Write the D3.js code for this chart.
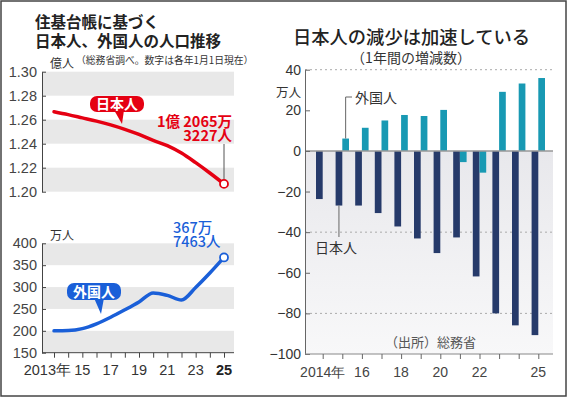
<!DOCTYPE html>
<html><head><meta charset="utf-8">
<script src="https://cdn.jsdelivr.net/npm/d3@7"></script>
<style>
body{margin:0;background:#fff;}
svg{display:block;}
</style></head>
<body><svg id="c" width="567" height="398"></svg>
<script>
// ---- data ----
const years = [2013,2014,2015,2016,2017,2018,2019,2020,2021,2022,2023,2024,2025];
const japanesePop = [1.2666,1.2642,1.2615,1.2588,1.2557,1.2520,1.2477,1.2427,1.2384,1.2322,1.2242,1.2156,1.2065]; // 億人
const foreignPop = [199.9,200.5,205,216,231,248,266,286.5,281,270.5,299,332,367.7]; // 万人
const barYears = [2014,2015,2016,2017,2018,2019,2020,2021,2022,2023,2024,2025];
const japaneseChange = [-23.7,-26.9,-26.9,-30.6,-37.2,-43.1,-50.3,-42.6,-61.8,-80.0,-85.9,-90.7]; // 万人
const foreignChange = [0,6.1,11.4,15.0,17.7,17.2,20.2,-5.5,-10.7,29.1,33.2,35.9]; // 万人
const topTicks = [1.20,1.22,1.24,1.26,1.28,1.30];
const topTickLabels = ["1.20","1.22","1.24","1.26","1.28","1.30"];
const botTicks = [150,200,250,300,350,400];
const leftXLabels = [[2013,"2013年"],[2015,"15"],[2017,"17"],[2019,"19"],[2021,"21"],[2023,"23"],[2025,"25"]];
const rightTicks = [-100,-80,-60,-40,-20,0,20,40];
const rightXLabels = [[2014,"2014年"],[2016,"16"],[2018,"18"],[2020,"20"],[2022,"22"],[2025,"25"]];

const JP = "'Noto Sans CJK JP','Noto Sans',sans-serif";
const NUM = "'Liberation Sans',Arial,sans-serif";
const RED = "#e50012", BLUE = "#1a5fd8", NAVY = "#263a6a", CYAN = "#1899b3";

const svg = d3.select("#c");
const defs = svg.append("defs");
const grad = defs.append("linearGradient").attr("id","gbg").attr("x1",0).attr("y1",0).attr("x2",0).attr("y2",1);
grad.append("stop").attr("offset","0%").attr("stop-color","#e8e8ec");
grad.append("stop").attr("offset","100%").attr("stop-color","#f8f8f9");

// frame
svg.append("rect").attr("x",1).attr("y",1).attr("width",565).attr("height",395)
  .attr("fill","#fff").attr("stroke","#444").attr("stroke-width",1.5);

// ---- left titles ----
svg.append("text").attr("x",35).attr("y",28).attr("font-family",JP).attr("font-size",15.5).attr("font-weight",700).attr("fill","#222").text("住基台帳に基づく");
svg.append("text").attr("x",35).attr("y",47).attr("font-family",JP).attr("font-size",15.5).attr("font-weight",700).attr("fill","#222").text("日本人、外国人の人口推移");
svg.append("text").attr("x",50).attr("y",68).attr("font-family",JP).attr("font-size",12).attr("fill","#333").text("億人");
svg.append("text").attr("x",76).attr("y",64).attr("font-family",JP).attr("font-size",9.8).attr("fill","#333").text("（総務省調べ。数字は各年1月1日現在）");

// ---- left scales ----
const x = d3.scaleLinear().domain([2013,2025]).range([54,224]);
const yTop = d3.scaleLinear().domain([1.20,1.30]).range([191.7,71.7]);
const yBot = d3.scaleLinear().domain([150,400]).range([352.7,243.3]);
const pL = 42, pR = 234;

// bands
[[1.28,1.30],[1.24,1.26],[1.20,1.22]].forEach(b=>{
  svg.append("rect").attr("x",pL).attr("width",pR-pL).attr("y",yTop(b[1])).attr("height",yTop(b[0])-yTop(b[1])).attr("fill","#e8e8e8");
});
[[350,400],[250,300],[150,200]].forEach(b=>{
  svg.append("rect").attr("x",pL).attr("width",pR-pL).attr("y",yBot(b[1])).attr("height",yBot(b[0])-yBot(b[1])).attr("fill","#e8e8e8");
});

// top y axis
const gTop = svg.append("g").attr("transform",`translate(${pL},0)`)
  .call(d3.axisLeft(yTop).tickValues(topTicks).tickFormat((d,i)=>topTickLabels[i]).tickSizeInner(-4).tickSizeOuter(0).tickPadding(5));
gTop.select(".domain").attr("stroke","#444");
gTop.selectAll(".tick line").attr("stroke","#444");
gTop.selectAll("text").attr("font-family",NUM).attr("font-size",14.5).attr("fill","#444");

// bottom y axis
const gBot = svg.append("g").attr("transform",`translate(${pL},0)`)
  .call(d3.axisLeft(yBot).tickValues(botTicks).tickSizeInner(-4).tickSizeOuter(0).tickPadding(5));
gBot.select(".domain").attr("stroke","#444");
gBot.selectAll(".tick line").attr("stroke","#444");
gBot.selectAll("text").attr("font-family",NUM).attr("font-size",14.5).attr("fill","#444");

// bottom x axis
const gx = svg.append("g").attr("transform",`translate(0,${yBot(150)})`)
  .call(d3.axisBottom(x).tickValues(years).tickFormat("").tickSizeInner(5).tickSizeOuter(0));
gx.select(".domain").attr("d",`M${pL},0H${pR}`).attr("stroke","#444");
gx.selectAll(".tick line").attr("stroke","#444");
leftXLabels.forEach(([yr,lab])=>{
  const t = svg.append("text").attr("y",375).attr("font-family",NUM).attr("font-size",14.5).attr("fill","#333").text(lab);
  if(yr===2013){ t.attr("x",x(yr)+17).attr("text-anchor","end"); }
  else { t.attr("x",x(yr)).attr("text-anchor","middle"); }
  if(yr===2025) t.attr("font-weight",700).attr("fill","#222");
});
svg.append("text").attr("x",50).attr("y",240).attr("font-family",JP).attr("font-size",12).attr("fill","#333").text("万人");

// lines
const lineTop = d3.line().x((d,i)=>x(years[i])).y(d=>yTop(d)).curve(d3.curveMonotoneX);
svg.append("path").attr("d",lineTop(japanesePop)).attr("fill","none").attr("stroke",RED).attr("stroke-width",3.5).attr("stroke-linecap","round");
const lineBot = d3.line().x((d,i)=>x(years[i])).y(d=>yBot(d)).curve(d3.curveMonotoneX);
svg.append("path").attr("d",lineBot(foreignPop)).attr("fill","none").attr("stroke",BLUE).attr("stroke-width",3.5).attr("stroke-linecap","round");

// end markers / labels
const lastJ = japanesePop[japanesePop.length-1], lastF = foreignPop[foreignPop.length-1];
svg.append("line").attr("x1",x(2025)).attr("x2",x(2025)).attr("y1",144).attr("y2",yTop(lastJ)-4).attr("stroke","#555").attr("stroke-width",1);
svg.append("circle").attr("cx",x(2025)).attr("cy",yTop(lastJ)).attr("r",4).attr("fill","#fff").attr("stroke",RED).attr("stroke-width",1.8);
const tj = svg.append("text").attr("text-anchor","end").attr("font-family",JP).attr("font-size",14.5).attr("font-weight",700).attr("fill",RED);
tj.append("tspan").attr("x",232).attr("y",127).text("1億 2065万");
tj.append("tspan").attr("x",232).attr("y",141).text("3227人");

svg.append("circle").attr("cx",x(2025)).attr("cy",yBot(lastF)).attr("r",4).attr("fill","#fff").attr("stroke",BLUE).attr("stroke-width",1.8);
const tf = svg.append("text").attr("font-family",JP).attr("font-size",14.5).attr("font-weight",500).attr("fill",BLUE);
tf.append("tspan").attr("x",173).attr("y",233).text("367万");
tf.append("tspan").attr("x",173).attr("y",246.5).text("7463人");

// callout boxes
function callout(bx,by,bw,bh,tail,color,label){
  svg.append("path").attr("d",`M${tail[0][0]},${tail[0][1]}L${tail[1][0]},${tail[1][1]}L${tail[2][0]},${tail[2][1]}Z`).attr("fill",color);
  svg.append("rect").attr("x",bx).attr("y",by).attr("width",bw).attr("height",bh).attr("rx",7).attr("fill",color);
  svg.append("text").attr("x",bx+bw/2).attr("y",by+bh/2+5).attr("text-anchor","middle").attr("font-family",JP).attr("font-size",14).attr("font-weight",700).attr("fill","#fff").text(label);
}
callout(90,96,54,16,[[114,110],[124,110],[122,124]],RED,"日本人");
callout(67,283,54,17,[[94,298],[104,298],[101,314]],BLUE,"外国人");

// ---- right chart ----
svg.append("text").attr("x",293).attr("y",44).attr("font-family",JP).attr("font-size",18.3).attr("font-weight",500).attr("fill","#222").text("日本人の減少は加速している");
svg.append("text").attr("x",411).attr("y",63).attr("text-anchor","middle").attr("font-family",JP).attr("font-size",14).attr("fill","#333").text("（1年間の増減数）");

const xR = d3.scaleLinear().domain([2014,2025]).range([322.7,538.3]);
const yR = d3.scaleLinear().domain([-100,40]).range([354,69.7]);
const rL = 305, rR = 553, bw = 6.7;

svg.append("rect").attr("x",rL).attr("y",yR(0)).attr("width",rR-rL).attr("height",yR(-100)-yR(0)).attr("fill","url(#gbg)");

// dotted gridlines
[40,-40,-80].forEach(v=>{
  svg.append("line").attr("x1",rL).attr("x2",rR).attr("y1",yR(v)).attr("y2",yR(v)).attr("stroke","#aaa").attr("stroke-width",1).attr("stroke-dasharray","2,3");
});

// bars
svg.append("g").selectAll("rect").data(barYears).join("rect")
  .attr("x",(d)=>xR(d)-bw).attr("width",bw)
  .attr("y",(d,i)=>Math.min(yR(0),yR(japaneseChange[i])))
  .attr("height",(d,i)=>Math.abs(yR(japaneseChange[i])-yR(0)))
  .attr("fill",NAVY);
svg.append("g").selectAll("rect").data(barYears).join("rect")
  .attr("x",(d)=>xR(d)).attr("width",bw)
  .attr("y",(d,i)=>Math.min(yR(0),yR(foreignChange[i])))
  .attr("height",(d,i)=>Math.abs(yR(foreignChange[i])-yR(0)))
  .attr("fill",CYAN);

// zero line
svg.append("line").attr("x1",rL).attr("x2",rR).attr("y1",yR(0)).attr("y2",yR(0)).attr("stroke","#999").attr("stroke-width",1.5);

// y axis
const gR = svg.append("g").attr("transform",`translate(${rL},0)`)
  .call(d3.axisLeft(yR).tickValues(rightTicks).tickSizeInner(-5).tickSizeOuter(0).tickPadding(4));
gR.select(".domain").attr("stroke","#666");
gR.selectAll(".tick line").attr("stroke","#666");
gR.selectAll("text").attr("font-family",NUM).attr("font-size",14).attr("fill","#333");
svg.append("text").attr("x",276).attr("y",97).attr("font-family",JP).attr("font-size",12.5).attr("fill","#333").text("万人");

// x axis
const gxR = svg.append("g").attr("transform",`translate(0,${yR(-100)})`)
  .call(d3.axisBottom(xR).tickValues(barYears).tickFormat("").tickSizeInner(5).tickSizeOuter(0));
gxR.select(".domain").attr("d",`M${rL},0H${rR}`).attr("stroke","#888");
gxR.selectAll(".tick line").attr("stroke","#666");
rightXLabels.forEach(([yr,lab])=>{
  svg.append("text").attr("x",xR(yr)).attr("y",376.5).attr("text-anchor","middle").attr("font-family",NUM).attr("font-size",14).attr("fill","#444").text(lab);
});

// annotations right
const fi = barYears.indexOf(2015);
svg.append("path").attr("d",`M352,97H${xR(2015)+bw/2}V${yR(foreignChange[fi])}`).attr("fill","none").attr("stroke","#666").attr("stroke-width",1);
svg.append("text").attr("x",355).attr("y",103).attr("font-family",JP).attr("font-size",14).attr("fill","#333").text("外国人");
svg.append("line").attr("x1",xR(2015)-bw/2).attr("x2",xR(2015)-bw/2).attr("y1",yR(japaneseChange[fi])).attr("y2",237).attr("stroke","#666").attr("stroke-width",1);
svg.append("text").attr("x",315).attr("y",253).attr("font-family",JP).attr("font-size",14).attr("fill","#333").text("日本人");
svg.append("text").attr("x",385).attr("y",347).attr("font-family",JP).attr("font-size",13).attr("fill","#555").text("（出所）総務省");
</script></body></html>
